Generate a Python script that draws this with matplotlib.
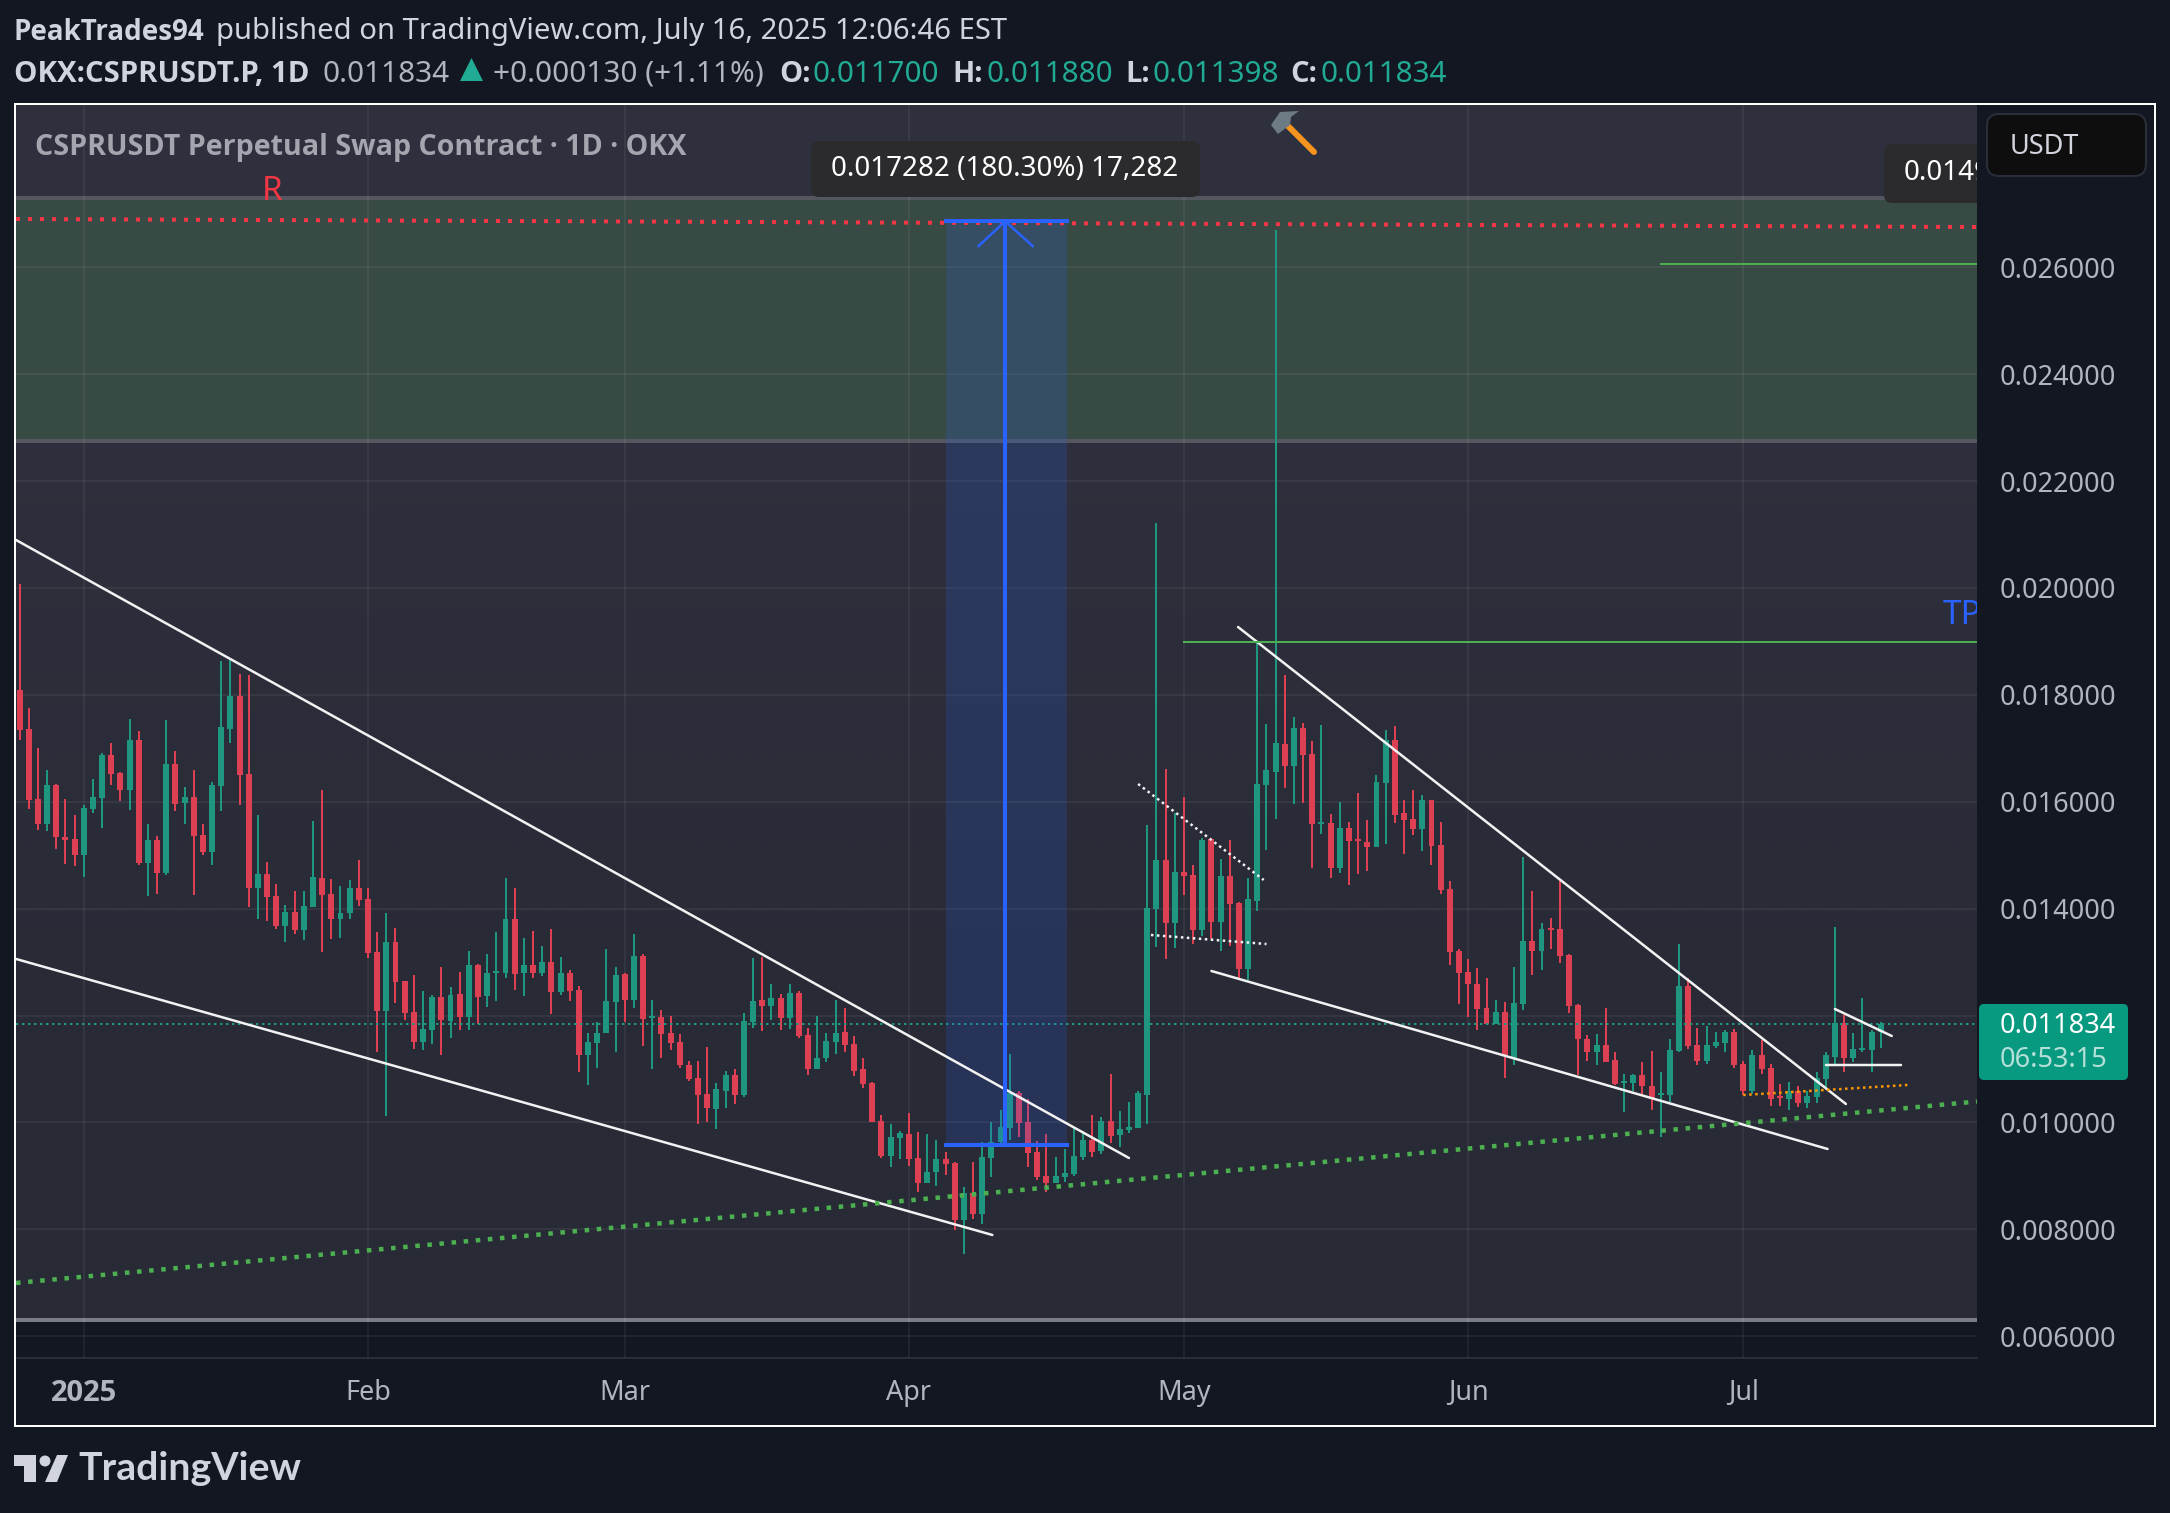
import numpy as np
import matplotlib
matplotlib.use("Agg")
import matplotlib.pyplot as plt
from matplotlib.colors import LinearSegmentedColormap
from matplotlib.patches import FancyBboxPatch, Polygon, Circle
from matplotlib.transforms import IdentityTransform

plt.rcParams['font.family'] = ['Noto Sans', 'DejaVu Sans']

W, H = 2170, 1513

# prices in 1e-6 USDT, first bar is 25 Dec 2024
highs = [20081,17763,16997,16586,16324,16044,15745,15932,16418,16922,
17091,16549,17558,17315,15577,15352,17539,16941,16268,16586,
15577,16362,18642,18661,18399,18380,15745,14866,14455,14063,
14324,14324,15633,16212,14549,14418,14530,14904,14380,13558,
13913,13632,12642,12754,12455,12380,12904,12530,12810,13203,
12960,13146,13558,14567,14380,13446,13576,13296,13614,13090,
12847,12561,11682,11888,13252,12916,12804,13533,13159,12299,
12112,12000,11664,11159,11159,11421,10729,10954,10991,12056,
13084,13103,12598,12411,12598,12467,11776,12000,11682,12299,
12150,11626,11215,10748,10131,9963,9832,10169,9813,9776,
9664,9440,9253,8785,9253,9627,10000,10225,11290,10598,
10430,9645,9776,9346,9496,9888,9832,10131,10094,10916,
10206,10374,10598,15570,21216,16617,15794,16093,14823,15327,
15327,14935,15290,14131,14580,19015,17458,26698,18374,17589,
17477,17140,17439,15776,16000,15626,16168,15664,16505,17346,
17420,16037,16224,16131,16037,15626,14523,13253,13066,12897,
12710,12299,12262,12916,14972,14336,13738,13832,14523,13159,
12224,11645,11664,12150,11309,10916,10916,11140,11346,10953,
11570,13346,12710,11776,11813,11701,11739,11757,11159,11365,
11552,11103,10711,10748,10673,10580,10953,11327,13664,12019,
11682,12337,11739,11880]
lows = [17165,15857,15465,15446,15109,14829,14792,14586,15782,15502,
16306,16007,15838,14810,14231,14268,14624,15820,15577,14250,
14997,14810,15820,17091,15932,14025,13801,13764,13614,13371,
13521,13409,14025,13184,13427,13446,13801,14044,13072,11315,
10119,12231,11913,11371,11352,11464,11259,11577,11726,11726,
11838,12156,12268,12698,12474,12361,12698,12735,12025,12380,
12268,10935,10692,11028,11682,11327,11888,12150,11439,10991,
11215,11365,11010,10785,9963,10000,9869,10262,10337,10468,
11776,11720,11925,11739,11757,11589,10897,10991,11122,11290,
11327,10860,10636,10000,9328,9159,9309,9178,8692,8860,
8804,9010,7982,7533,8187,8094,8972,9589,9664,9720,
9159,8916,8692,8860,8879,8991,9290,9346,9402,9608,
9533,9795,9888,9971,13290,13066,13271,14262,13346,13496,
13439,13215,13309,12711,12673,13963,15103,15682,16262,15963,
15981,14766,15402,14580,14673,14449,14654,14710,15159,15215,
15608,15028,15383,15084,14823,14280,12954,12225,11982,11738,
11851,11851,10841,11066,12112,12766,12860,13252,12991,12056,
10879,11159,11066,11122,10692,10187,10598,10505,10225,9720,
10374,11309,11383,11066,11103,11402,11309,11028,10505,10524,
10916,10299,10299,10225,10281,10262,10355,10617,11103,10953,
11140,11309,10935,11398]
opens = [18100,17371,16044,15577,16306,15334,15296,14997,15857,16063,
16866,16530,16212,17165,14848,15278,14661,16698,15969,16081,
15371,15053,16287,17371,17988,16511,14380,14642,14231,13670,
13932,13596,14025,14567,14268,13801,13913,14380,14175,13184,
12081,13371,12642,12062,11502,11726,12343,11894,12399,11969,
12941,12361,12791,12791,13801,12791,12941,12791,12997,12436,
12791,12486,11253,11496,11682,12262,12785,12299,13122,11963,
11981,11682,11514,11084,10823,10524,10243,10598,10897,10505,
11888,12299,12187,12337,11963,12430,11645,10991,11215,11514,
11701,11477,10991,10729,10019,9365,9701,9776,9328,8860,
9066,9309,9234,8169,8673,8281,9328,9627,9888,10542,
10000,9440,8991,8860,8972,9028,9346,9664,9458,10019,
9757,9851,9888,10514,14000,14916,13738,14692,14636,13608,
15308,13757,14617,14112,12879,14150,16318,16561,17084,16673,
17383,16897,15589,15608,14766,15514,15308,15252,15159,16355,
17159,15794,15682,15495,16037,15196,14374,13215,12823,12598,
12150,11851,12075,11197,12224,13402,13215,13645,13626,13140,
12206,11570,11327,11458,11178,10729,10729,10897,10673,10505,
10505,11346,12561,11458,11159,11439,11496,11701,11103,10598,
11271,11010,10486,10430,10580,10355,10468,10804,11234,11869,
11215,11365,11365,11700]
closes = [17352,16025,15577,16306,15334,15278,14997,15876,16081,16866,
16511,16212,17165,14848,15278,14661,16698,15951,16081,15352,
15053,16306,17390,17988,16493,14380,14642,14212,13670,13932,
13596,14044,14586,14250,13801,13913,14380,14156,13165,12081,
13371,12623,12044,11502,11745,12343,11913,12380,11969,12941,
12343,12791,12829,13801,12773,12941,12791,12997,12436,12791,
12455,11253,11514,11682,12281,12766,12299,13122,11944,12000,
11664,11496,11066,10804,10505,10262,10617,10897,10505,11907,
12281,12187,12337,11963,12430,11626,10991,11215,11533,11682,
11458,10972,10711,10000,9365,9720,9795,9309,8860,9066,
9309,9215,8169,8673,8281,9346,9627,9907,10542,9982,
9421,8972,8860,8991,9047,9365,9664,9440,10019,9739,
9869,9907,10542,14019,14916,13738,14692,14617,13608,15290,
13757,14617,14094,12879,14187,16336,16598,17103,16673,17383,
16878,15589,15626,14766,15514,15271,15271,15159,16374,17159,
15757,15664,15495,16037,15178,14355,13196,12804,12598,12131,
11851,12075,11253,12243,13402,13215,13626,13608,13122,12187,
11570,11327,11458,11140,10711,10767,10897,10673,10430,10542,
11365,12561,11439,11159,11458,11514,11701,11066,10598,11271,
10991,10430,10449,10580,10355,10486,10823,11253,11869,11215,
11383,11402,11701,11834]

month_bars = [7, 38, 66, 97, 127, 158, 188]
month_labels = ['2025', 'Feb', 'Mar', 'Apr', 'May', 'Jun', 'Jul']
price_ticks = [6000, 8000, 10000, 12000, 14000, 16000, 18000, 20000, 22000, 24000, 26000]
price_labels = ['0.006000', '0.008000', '0.010000', '', '0.014000', '0.016000', '0.018000',
                '0.020000', '0.022000', '0.024000', '0.026000']

# drawings on the chart: (bar, price, bar, price)
white_lines = [(-0.39, 20898, 121.0, 9335),
               (-0.39, 13059, 106.1, 7895),
               (132.9, 19270, 199.2, 10346),
               (130.0, 12834, 197.2, 9504),
               (198.0, 12123, 204.2, 11618),
               (197.0, 11075, 205.2, 11075)]
white_dotted = [(122.0, 16333, 135.7, 14537), (123.4, 13508, 136.0, 13339)]
orange_dotted = (188.0, 10514, 205.9, 10701)
green_dotted = (-0.39, 6997, 213.5, 10392)
red_dotted = (-0.39, 26904, 213.5, 26754)
green_lines = [(127.0, 18990, 213.5, 18990), (179.0, 26062, 213.5, 26062)]
zone_top, zone_bottom = 27297, 22750
support = 6304
measure_left, measure_right, measure_mid = 101.0, 114.2, 107.5
measure_low, measure_high = 9580, 26862
last_price = 11834


def lw(px):
    return px * 0.72


def fx(x):
    return x / W


def fy(y):
    return 1 - y / H


def txt(x, y, s, **kw):
    kw.setdefault('va', 'center')
    fig.text(fx(x), fy(y), s, **kw)


def seg(line, **kw):
    ax.plot([line[0], line[2]], [line[1] * 1e-6, line[3] * 1e-6], **kw)


def box(target, x0, y0, x1, y1, r, **kw):
    p = FancyBboxPatch((x0, H - y1), x1 - x0, y1 - y0, boxstyle=f"round,pad=0,rounding_size={r}",
                       transform=IdentityTransform(), **kw)
    if target is fig:
        fig.add_artist(p)
    else:
        target.add_patch(p)


BG = '#131722'
GREEN = '#1f9680'
RED = '#dc4052'
LABEL = '#b2b5be'
BOLD = 'Open Sans'

fig = plt.figure(figsize=(W / 100, H / 100), dpi=100, facecolor=BG)
ax = fig.add_axes([16 / W, 1 - 1358 / H, 1961 / W, 1253 / H], facecolor=BG)

xlim = (-0.393, 213.5)
ylim = (5593e-6, 29037e-6)

# light chart area above the support line
cm = LinearSegmentedColormap.from_list('bg', ['#2e313d', '#282b36'])
ax.imshow([[0], [1]], extent=(xlim[0], xlim[1], support * 1e-6, ylim[1]), cmap=cm, aspect='auto',
          interpolation='bilinear', zorder=0)
ax.axhspan(zone_bottom * 1e-6, zone_top * 1e-6, color='#384a44', lw=0, zorder=0.5)
ax.set_xlim(xlim)
ax.set_ylim(ylim)

ax.set_xticks(month_bars)
ax.set_xticklabels(month_labels, fontsize=19.5, color=LABEL)
ax.get_xticklabels()[0].set_fontweight('bold')
ax.get_xticklabels()[0].set_family(BOLD)
ax.get_xticklabels()[0].set_fontsize(21)
ax.set_yticks([p * 1e-6 for p in price_ticks])
ax.set_yticklabels(price_labels, fontsize=19.5, color=LABEL)
ax.yaxis.tick_right()
ax.tick_params(axis='x', length=0, pad=15)
ax.tick_params(axis='y', length=0, pad=16)
ax.grid(True, color='white', alpha=0.055, lw=lw(2), zorder=1)
ax.set_axisbelow(False)
for s in ['top', 'left', 'right']:
    ax.spines[s].set_visible(False)
ax.spines['bottom'].set_color('#2a2e39')
ax.spines['bottom'].set_linewidth(lw(2))

ax.axhline(zone_top * 1e-6, color='#54575f', lw=lw(4), zorder=1.5)
ax.axhline(zone_bottom * 1e-6, color='#54575f', lw=lw(4), zorder=1.5)
ax.axhline(support * 1e-6, color='#7b7d86', lw=lw(4), zorder=1.5)

# candles
bars = np.arange(len(closes))
o = np.array(opens) * 1e-6
c = np.array(closes) * 1e-6
hi = np.array(highs) * 1e-6
lo = np.array(lows) * 1e-6
colors = [GREEN if a >= b else RED for a, b in zip(c, o)]
ax.vlines(bars, lo, hi, colors=colors, lw=lw(2), zorder=3)
ax.bar(bars, np.abs(c - o), bottom=np.minimum(o, c), width=0.65, color=colors, lw=0, zorder=3)

ax.axhline(last_price * 1e-6, color=GREEN, lw=lw(2), ls=(0, (1.2, 1.8)), zorder=3.5)

# long position measure
ax.fill_between([measure_left, measure_right], measure_low * 1e-6, measure_high * 1e-6,
                color='#2962ff', alpha=0.17, lw=0, zorder=5)

# trend lines
for line in white_lines:
    seg(line, color='#f2f2f2', lw=lw(2.5), solid_capstyle='round', zorder=6)
for line in white_dotted:
    seg(line, color='#f2f2f2', lw=lw(2.5), ls=(0, (1, 1.4)), zorder=6)
seg(orange_dotted, color='#ff9800', lw=lw(2.5), ls=(0, (1, 1.4)), zorder=6)
seg(green_dotted, color='#4caf50', lw=lw(4.5), ls=(0, (1.0, 1.7)), zorder=6)
seg(red_dotted, color='#f23645', lw=lw(4), ls=(0, (1.0, 2.0)), zorder=6)
for line in green_lines:
    seg(line, color='#4caf50', lw=lw(2), zorder=6)

seg((measure_mid, measure_low, measure_mid, measure_high), color='#2962ff', lw=lw(4), zorder=7)
seg((measure_left, measure_low, measure_right, measure_low), color='#2962ff', lw=lw(4), zorder=7)
seg((measure_left, measure_high, measure_right, measure_high), color='#2962ff', lw=lw(4), zorder=7)
ax.plot([104.6, measure_mid, 110.5], [26399e-6, measure_high * 1e-6, 26399e-6], color='#2962ff', lw=lw(2.5), zorder=7)

# labels inside the chart
box(ax, 811, 141, 1200, 197, 8, fc='#2b2b2e', ec='none', zorder=8)
ax.text(1005, H - 169, '0.017282 (180.30%) 17,282', color='white', fontsize=20, ha='center', va='center',
        transform=IdentityTransform(), zorder=9)
box(ax, 1884, 144, 2100, 203, 8, fc='#2b2b2e', ec='none', zorder=8)
ax.text(1904, H - 173, '0.014950', color='white', fontsize=20, va='center', transform=IdentityTransform(),
        clip_on=True, zorder=9)
ax.text(35, H - 147, 'CSPRUSDT Perpetual Swap Contract · 1D · OKX', color='#a3a6af', fontsize=20.6,
        fontweight='bold', family=BOLD, va='center', transform=IdentityTransform(), zorder=9)
ax.text(262, H - 192, 'R', color='#f23645', fontsize=24, va='center', transform=IdentityTransform(), zorder=9)
ax.text(1943, H - 616, 'TP', color='#2962ff', fontsize=24, va='center', transform=IdentityTransform(),
        clip_on=True, zorder=9)

# hammer
fig.add_artist(plt.Line2D([fx(1287), fx(1314)], [fy(125), fy(152)], color='#f7941d', lw=lw(6),
                          solid_capstyle='round', zorder=5))
fig.add_artist(Polygon([(fx(1271), fy(125)), (fx(1280), fy(112)), (fx(1299), fy(111)), (fx(1291), fy(117)),
                        (fx(1290), fy(125)), (fx(1278), fy(134))], closed=True, fc='#6d7b84', ec='none',
                       transform=fig.transFigure, zorder=5))

# frame
fig.add_artist(plt.Rectangle((fx(15), fy(1426)), 2140 / W, 1322 / H, fill=False, ec='white', lw=lw(2),
                             transform=fig.transFigure, zorder=6))

# header
txt(14, 32, 'PeakTrades94', color='#d1d4dc', fontsize=20, fontweight='bold', family=BOLD)
txt(216, 32, 'published on TradingView.com, July 16, 2025 12:06:46 EST', color='#d1d4dc', fontsize=21)
txt(14, 74, 'OKX:CSPRUSDT.P, 1D', color='#d1d4dc', fontsize=21.2, fontweight='bold', family=BOLD)
txt(322, 74, '0.011834', color=LABEL, fontsize=21.4)
fig.add_artist(Polygon([(fx(460), fy(81)), (fx(483), fy(81)), (fx(471.5), fy(58))], closed=True, fc='#22ab94',
                       ec='none', transform=fig.transFigure))
txt(493, 74, '+0.000130 (+1.11%)', color=LABEL, fontsize=21.4)
for x, s in [(779, 'O:'), (952, 'H:'), (1125, 'L:'), (1290, 'C:')]:
    txt(x, 74, s, color='#d1d4dc', fontsize=21, fontweight='bold', family=BOLD)
for x, s in [(813, '0.011700'), (986, '0.011880'), (1152, '0.011398'), (1321, '0.011834')]:
    txt(x, 74, s, color='#22ab94', fontsize=21.3)

# right scale widgets
box(fig, 1987, 114, 2146, 176, 12, fc='#0e0e0f', ec='#2a2e39', lw=lw(2), zorder=5)
txt(2010, 147, 'USDT', color='#d1d4dc', fontsize=19.5, zorder=6)
box(fig, 1979, 1004, 2128, 1080, 5, fc='#089981', ec='none', zorder=5)
txt(2000, 1026, '0.011834', color='white', fontsize=19.5, zorder=6)
txt(2000, 1060, '06:53:15', color='#b5e0d8', fontsize=19.5, zorder=6)

# logo
fig.add_artist(Polygon([(fx(14), fy(1455)), (fx(36), fy(1455)), (fx(36), fy(1482)), (fx(24), fy(1482)),
                        (fx(24), fy(1466)), (fx(14), fy(1466))], closed=True, fc='#d1d4dc', ec='none',
                       transform=fig.transFigure))
fig.add_artist(Circle((45, H - 1461), 5.5, fc='#d1d4dc', ec='none', transform=IdentityTransform()))
fig.add_artist(Polygon([(fx(57), fy(1455)), (fx(68), fy(1455)), (fx(57), fy(1482)), (fx(45), fy(1482))], closed=True,
                       fc='#d1d4dc', ec='none', transform=fig.transFigure))
txt(78, 1469, 'TradingView', color='#d1d4dc', fontsize=28.3, fontweight='bold', family='Lato')

fig.savefig('out.png', dpi=100, facecolor=BG)
